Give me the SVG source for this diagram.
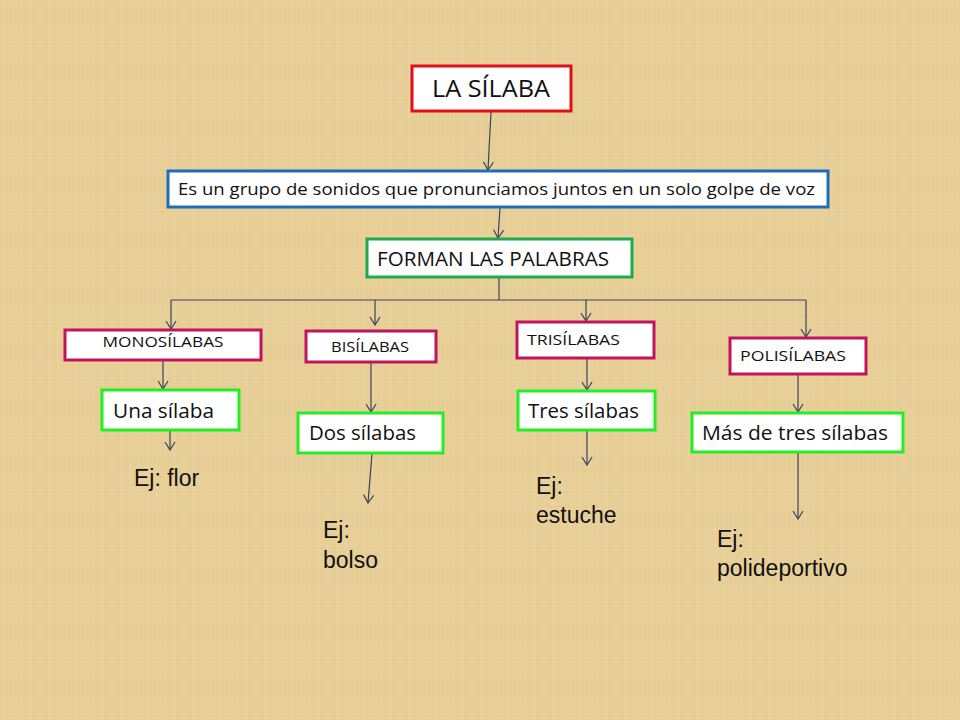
<svg xmlns="http://www.w3.org/2000/svg" width="960" height="720" viewBox="0 0 960 720">
<defs>
<marker id="arr" markerWidth="12" markerHeight="12" refX="11" refY="6" orient="auto" markerUnits="userSpaceOnUse" viewBox="0 0 12 12">
<polyline points="3,1 11,6 3,11" fill="none" stroke="#38425e" stroke-width="1.2"/>
</marker>
<pattern id="tex" width="9" height="7" patternUnits="userSpaceOnUse">
<rect width="9" height="7" fill="#e8cf98"/>
<line x1="0" y1="2" x2="9" y2="2" stroke="#dfc48c" stroke-width="1" opacity="0.35"/>
<line x1="4" y1="0" x2="4" y2="7" stroke="#efd9a6" stroke-width="1" opacity="0.4"/>
</pattern>
</defs>
<style>
.box{fill:#ffffff;stroke-width:3}
.red{stroke:#e0101a}
.blue{stroke:#1f6fb8}
.dg{stroke:#1aab4a}
.mag{stroke:#c0155a}
.lg{stroke:#22ee22}
.t{font-family:"Open Sans","Liberation Sans",sans-serif;fill:#111}
.a{font-family:"Liberation Sans",Arial,sans-serif;fill:#111;font-size:23px}
.c{fill:none;stroke:#38425e;stroke-width:1.2}
</style>
<rect width="960" height="720" fill="url(#tex)"/>
<g id="connectors">
<line class="c" x1="491" y1="112" x2="488" y2="170" marker-end="url(#arr)"/>
<line class="c" x1="500" y1="208" x2="498" y2="238" marker-end="url(#arr)"/>
<polyline class="c" points="499,278 499,300"/>
<polyline class="c" points="171,300 806,300"/>
<line class="c" x1="171" y1="300" x2="171" y2="329" marker-end="url(#arr)"/>
<line class="c" x1="375" y1="300" x2="375" y2="325" marker-end="url(#arr)"/>
<line class="c" x1="586" y1="300" x2="586" y2="321" marker-end="url(#arr)"/>
<line class="c" x1="806" y1="300" x2="806" y2="337" marker-end="url(#arr)"/>
<line class="c" x1="163" y1="361" x2="163" y2="389" marker-end="url(#arr)"/>
<line class="c" x1="170" y1="431" x2="170" y2="450" marker-end="url(#arr)"/>
<line class="c" x1="371" y1="363" x2="371" y2="412" marker-end="url(#arr)"/>
<line class="c" x1="372" y1="454" x2="368" y2="503" marker-end="url(#arr)"/>
<line class="c" x1="587" y1="359" x2="587" y2="390" marker-end="url(#arr)"/>
<line class="c" x1="587" y1="431" x2="587" y2="465" marker-end="url(#arr)"/>
<line class="c" x1="798" y1="375" x2="798" y2="412" marker-end="url(#arr)"/>
<line class="c" x1="798" y1="453" x2="798" y2="519" marker-end="url(#arr)"/>
</g>
<g id="n-silaba"><rect class="box red" x="412" y="66" width="159" height="45"/><text class="t" x="491" y="97" font-size="24" text-anchor="middle" textLength="118" lengthAdjust="spacingAndGlyphs">LA SÍLABA</text></g>
<g id="n-def"><rect class="box blue" x="168" y="171" width="660" height="36"/><text class="t" x="178" y="195" font-size="16" textLength="637" lengthAdjust="spacingAndGlyphs">Es un grupo de sonidos que pronunciamos juntos en un solo golpe de voz</text></g>
<g id="n-forman"><rect class="box dg" x="367" y="239" width="265" height="38"/><text class="t" x="377" y="266" font-size="20.5" textLength="232" lengthAdjust="spacingAndGlyphs">FORMAN LAS PALABRAS</text></g>
<g id="n-mono"><rect class="box mag" x="65" y="330" width="196" height="30"/><text class="t" x="163" y="347" font-size="14.5" text-anchor="middle" textLength="121" lengthAdjust="spacingAndGlyphs">MONOSÍLABAS</text></g>
<g id="n-bi"><rect class="box mag" x="306" y="331" width="130" height="31"/><text class="t" x="370" y="352" font-size="14" text-anchor="middle" textLength="78" lengthAdjust="spacingAndGlyphs">BISÍLABAS</text></g>
<g id="n-tri"><rect class="box mag" x="517" y="322" width="137" height="36"/><text class="t" x="527" y="345" font-size="15" textLength="93" lengthAdjust="spacingAndGlyphs">TRISÍLABAS</text></g>
<g id="n-poli"><rect class="box mag" x="730" y="338" width="136" height="36"/><text class="t" x="740" y="361" font-size="15" textLength="106" lengthAdjust="spacingAndGlyphs">POLISÍLABAS</text></g>
<g id="n-una"><rect class="box lg" x="102" y="390" width="137" height="40"/><text class="t" x="113" y="418" font-size="20.5" textLength="101" lengthAdjust="spacingAndGlyphs">Una sílaba</text></g>
<g id="n-dos"><rect class="box lg" x="298" y="413" width="145" height="40"/><text class="t" x="309" y="440" font-size="20.5" textLength="107" lengthAdjust="spacingAndGlyphs">Dos sílabas</text></g>
<g id="n-tres"><rect class="box lg" x="518" y="391" width="137" height="39"/><text class="t" x="528" y="418" font-size="20.5" textLength="111" lengthAdjust="spacingAndGlyphs">Tres sílabas</text></g>
<g id="n-mas"><rect class="box lg" x="692" y="413" width="211" height="39"/><text class="t" x="702" y="440" font-size="20.5" textLength="186" lengthAdjust="spacingAndGlyphs">Más de tres sílabas</text></g>
<g id="ex-flor"><text class="a" x="134" y="486">Ej: flor</text></g>
<g id="ex-bolso"><text class="a" x="323" y="538">Ej:</text><text class="a" x="323" y="568">bolso</text></g>
<g id="ex-estuche"><text class="a" x="536" y="494">Ej:</text><text class="a" x="536" y="523">estuche</text></g>
<g id="ex-poli"><text class="a" x="717" y="547">Ej:</text><text class="a" x="717" y="576">polideportivo</text></g>
</svg>
